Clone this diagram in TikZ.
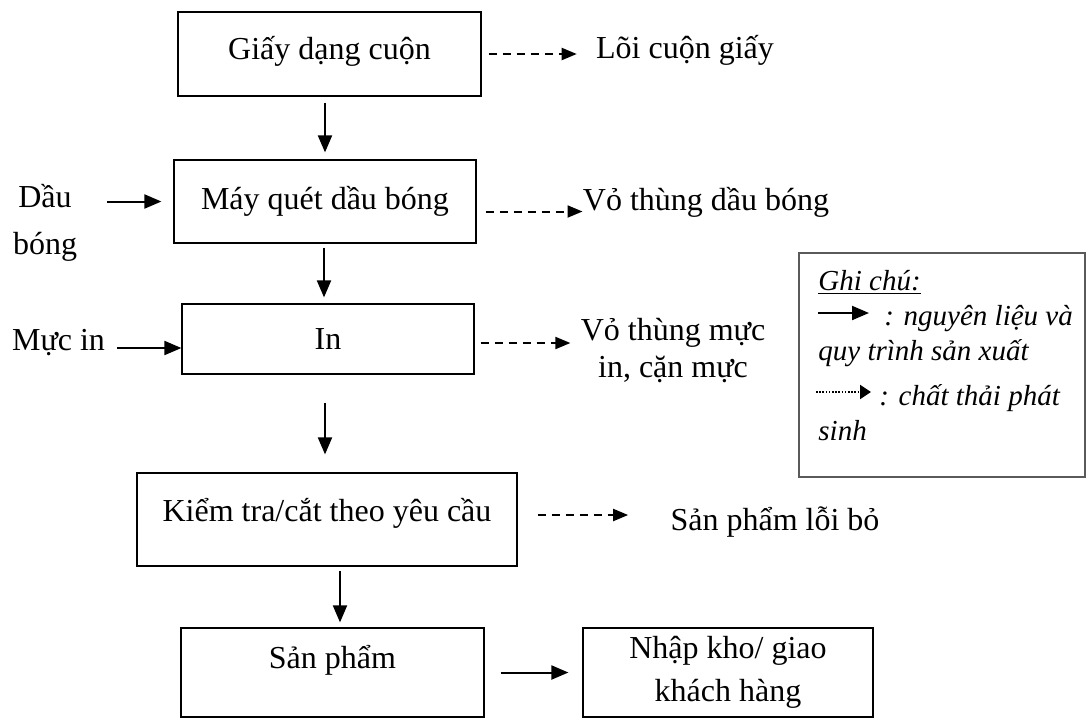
\documentclass[tikz,border=0pt]{standalone}
\usepackage{fontspec}
\setmainfont{Liberation Serif}
\usepackage{tikz}
\usetikzlibrary{arrows.meta,positioning,calc}
\definecolor{qtink} {HTML}{000000}
\definecolor{qtrule}{HTML}{5A5A5A}
\tikzset{
  qtbox/.style={draw=qtink, line width=0.6pt, inner sep=0pt, align=center,
                font=\fontsize{16}{21.5}\selectfont},
  qtlabel/.style={inner sep=0pt, align=center, font=\fontsize{16}{19}\selectfont},
  qtnote/.style={inner sep=0pt, anchor=base west,
                 font=\fontsize{14.5}{17}\selectfont\itshape},
  qtflow/.style={-{Triangle[length=8.5pt,width=7pt]}, draw=qtink, line width=1pt},
  qtwaste/.style={-{Triangle[length=7.5pt,width=6pt]}, draw=qtink, line width=1pt,
                  dash pattern=on 4pt off 3pt},
  qtdots/.style={-{Triangle[length=5.5pt,width=7pt]}, draw=qtink, line width=1pt,
                 dash pattern=on 0.8pt off 0.8pt},
}

\begin{document}
\begin{tikzpicture}[x=0.5pt,y=-0.5pt]
  \useasboundingbox (0,0) rectangle (1087,719);

  % main process column
  \node[qtbox, minimum width=151.5pt, minimum height=42pt, text depth=6pt]
    (giay) at (329.5,54) {Giấy dạng cuộn};
  \node[qtbox, minimum width=151pt, minimum height=41.5pt]
    (mayquet) at (325,201.5) {Máy quét dầu bóng};
  \node[qtbox, minimum width=146pt, minimum height=35pt]
    (in) at (328,339) {In};
  \node[qtbox, minimum width=190pt, minimum height=46.5pt, text depth=10pt]
    (kiemtra) at (327,519.5) {Kiểm tra/cắt theo yêu cầu};
  \node[qtbox, minimum width=151.5pt, minimum height=44.5pt, text depth=16pt]
    (sanpham) at (332.5,672.5) {Sản phẩm};
  \node[qtbox, minimum width=145pt, minimum height=44.5pt]
    (nhapkho) at (728,672.5) {Nhập kho/ giao\\khách hàng};

  % inputs
  \node[qtlabel, font=\fontsize{16}{23.5}\selectfont] (dau) at (45,223) {Dầu\\bóng};
  \node[qtlabel] (mucin) at (58.5,343) {Mực in};

  % wastes
  \node[qtlabel] (loi) at (685,50) {Lõi cuộn giấy};
  \node[qtlabel] (vothung) at (706,202) {Vỏ thùng dầu bóng};
  \node[qtlabel, font=\fontsize{16}{18.5}\selectfont] (vomuc) at (673,351)
    {Vỏ thùng mực\\in, cặn mực};
  \node[qtlabel] (loibo) at (775,522) {Sản phẩm lỗi bỏ};

  \draw[qtflow, shorten <=3pt, shorten >=3.5pt]
    ([xshift=-2.25pt]giay.south) -- ([xshift=-2.25pt]giay.south |- mayquet.north);
  \draw[qtflow, shorten <=2pt, shorten >=3pt]
    ([xshift=-0.5pt]mayquet.south) -- ([xshift=-0.5pt]mayquet.south |- in.north);
  \draw[qtflow, shorten <=14pt, shorten >=9pt]
    ([xshift=-1.5pt]in.south) -- ([xshift=-1.5pt]in.south |- kiemtra.north);
  \draw[qtflow, shorten <=2pt, shorten >=2.5pt]
    ([xshift=6.5pt]kiemtra.south) -- ([xshift=6.5pt]kiemtra.south |- sanpham.north);
  \draw[qtflow, shorten <=8pt, shorten >=7pt] (sanpham.east) -- (nhapkho.west);

  \draw[qtflow, shorten <=15pt, shorten >=6pt] (dau.east |- mayquet.west) -- (mayquet.west);
  \draw[qtflow, shorten <=6pt]
    ([yshift=-2.5pt]mucin.east) -- ([yshift=-2.5pt]mucin.east -| in.west);

  \draw[qtwaste, shorten <=3.5pt, shorten >=9.5pt] (giay.east) -- (giay.east -| loi.west);
  \draw[qtwaste, shorten <=4.5pt]
    ([yshift=-5pt]mayquet.east) -- ([yshift=-5pt]mayquet.east -| vothung.west);
  \draw[qtwaste, shorten <=3pt, shorten >=5pt]
    ([yshift=-2pt]in.east) -- ([yshift=-2pt]in.east -| vomuc.west);
  \draw[qtwaste, shorten <=10pt, shorten >=21pt]
    ([yshift=2.25pt]kiemtra.east) -- ([yshift=2.25pt]kiemtra.east -| loibo.west);

  % legend
  \node[draw=qtrule, line width=0.6pt, minimum width=143pt, minimum height=112pt,
        inner sep=0pt] (ghichu) at (942,365) {};
  \node[qtnote] (gc) at (818,290) {\underline{Ghi chú:}};
  \node[qtnote] (nl) at (884,325) {: nguyên liệu và};
  \node[qtnote] (qt) at (818,360) {quy trình sản xuất};
  \node[qtnote] (ct) at (879,405) {: chất thải phát};
  \node[qtnote] (sh) at (818,440) {sinh};
  \coordinate (k1) at (818,313);
  \coordinate (k2) at (816,392);
  \draw[qtflow, shorten >=7.5pt] (k1) -- (k1 -| nl.west);
  \draw[qtdots, shorten >=4pt] (k2) -- (k2 -| ct.west);
\end{tikzpicture}
\end{document}
